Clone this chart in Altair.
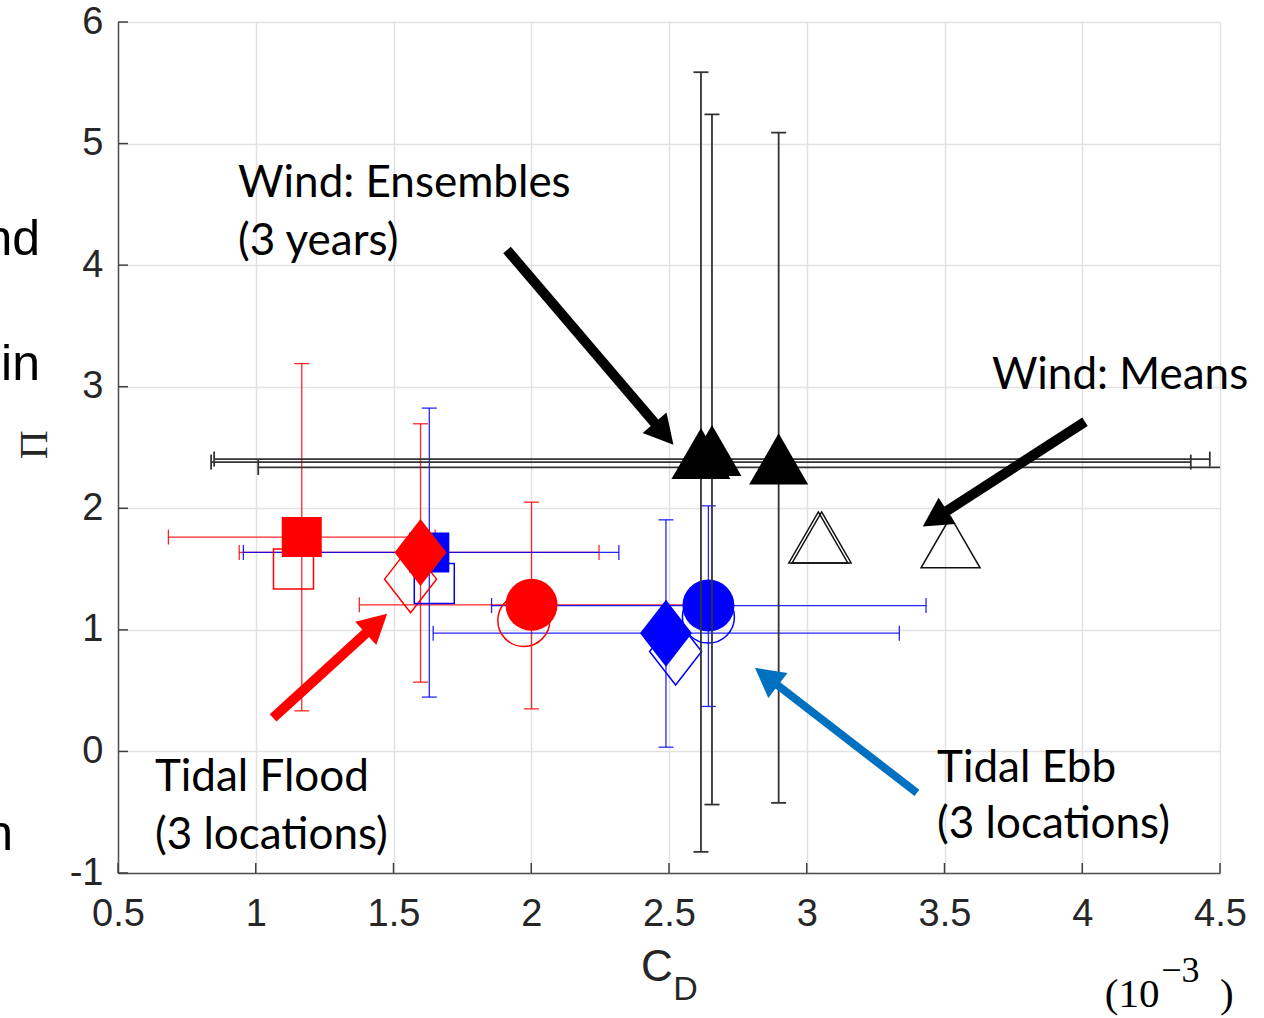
import math
import altair as alt
import pandas as pd

# ---------------- data ----------------
x_ticks = [0.5, 1, 1.5, 2, 2.5, 3, 3.5, 4, 4.5]
y_ticks = [-1, 0, 1, 2, 3, 4, 5, 6]

# Tidal Flood (red) – filled markers with error bars
red_shape = ["square", "diamond", "circle"]
red_x = [1.167, 1.598, 2.001]
red_y = [1.763, 1.637, 1.206]
red_xlo = [0.683, 0.940, 1.376]
red_xhi = [1.651, 2.246, 2.626]
red_ylo = [0.334, 0.570, 0.350]
red_yhi = [3.190, 2.695, 2.050]
# Tidal Flood (red) – open markers
red_open_x = [1.137, 1.562, 1.973]
red_open_y = [1.500, 1.417, 1.077]

# Tidal Ebb (blue) – filled markers with error bars
blue_shape = ["square", "diamond", "circle"]
blue_x = [1.630, 2.489, 2.643]
blue_y = [1.637, 0.973, 1.200]
blue_xlo = [0.955, 1.644, 1.856]
blue_xhi = [2.318, 3.336, 3.433]
blue_ylo = [0.447, 0.035, 0.370]
blue_yhi = [2.824, 1.905, 2.020]
# Tidal Ebb (blue) – open markers
blue_open_x = [1.648, 2.524, 2.643]
blue_open_y = [1.381, 0.822, 1.105]

# Wind ensembles (black filled triangles, 3 years)
wind_x = [2.616, 2.656, 2.898]
wind_y = [2.380, 2.405, 2.336]
wind_xlo = [0.838, 0.849, 1.009]
wind_xhi = [4.394, 4.463, 4.787]
wind_ylo = [-0.826, -0.437, -0.423]
wind_yhi = [5.587, 5.240, 5.090]
# Wind means (open triangles)
mean_x = [3.042, 3.054, 3.522]
mean_y = [1.690, 1.690, 1.650]

# annotation arrows (data coordinates)
arrow_tail_x = [1.912, 4.010, 1.063, 3.400]
arrow_tail_y = [4.125, 2.712, 0.276, -0.341]
arrow_tip_x = [2.516, 3.421, 1.477, 2.812]
arrow_tip_y = [2.522, 1.850, 1.132, 0.688]
arrow_color = ["#000000", "#000000", "#ff0000", "#0070c0"]
arrow_width = [10, 10, 10, 8]

# annotation texts
note_text = ["Wind: Ensembles", "(3 years)", "Wind: Means", "Tidal Ebb",
             "(3 locations)", "Tidal Flood", "(3 locations)"]
note_x = [0.936, 0.936, 3.672, 3.473, 3.473, 0.634, 0.634]
note_y = [4.564, 4.085, 2.983, -0.250, -0.715, -0.325, -0.800]

# text fragments cropped at the left edge of the picture
frag_text = ["nd", "in", "n"]
frag_x = [0.217, 0.217, 0.119]
frag_y = [4.084, 3.056, -0.809]

# ---------------- layout ----------------
W, H = 1102, 851
XD, YD = [0.5, 4.5], [-1, 6]
PX_X = W / (XD[1] - XD[0])
PX_Y = H / (YD[1] - YD[0])

RED, BLUE, BLK = "#ff0000", "#0000ff", "#000000"
DIAMOND = "M0,-1L0.776,0L0,1L-0.776,0Z"
TRIANGLE = "M0,-1.155L1,0.577L-1,0.577Z"
HEAD = "M0,0L0.54,1L-0.54,1Z"
SHAPE = {"square": "square", "circle": "circle", "diamond": DIAMOND, "triangle": TRIANGLE}
SIZE = {"square": 1600, "circle": 2704, "diamond": 4489, "triangle": 3481}

xscale = alt.Scale(domain=XD, nice=False, zero=False)
yscale = alt.Scale(domain=YD, nice=False, zero=False)

xaxis = alt.Axis(values=x_ticks, format="~g", title=None, grid=True, ticks=False,
                 tickSize=0, labelPadding=22, labelFlush=False, labelOverlap=False,
                 domain=True)
yaxis = alt.Axis(values=y_ticks, format="~g", title=None, grid=True, ticks=False,
                 tickSize=0, labelPadding=15, labelOverlap=False, domain=True,
                 labelExpr="replace(datum.label, '\u2212', '-')")


def X(f):
    return alt.X(f, type="quantitative", scale=xscale, axis=xaxis)


def Y(f):
    return alt.Y(f, type="quantitative", scale=yscale, axis=yaxis)


# ---- inward ticks ----
xt = pd.DataFrame({"x": x_ticks})
yt = pd.DataFrame({"y": y_ticks})
xtick_layer = alt.Chart(xt).mark_rule(color="#404040", strokeWidth=1.5).encode(
    x=X("x"), y=alt.value(H), y2=alt.value(H - 10))
ytick_layer = alt.Chart(yt).mark_rule(color="#404040", strokeWidth=1.5).encode(
    y=Y("y"), x=alt.value(0), x2=alt.value(10))


def errbar_layers(xs, ys, xlo, xhi, ylo, yhi, color, width, opacity):
    vb = pd.DataFrame({"x": xs, "lo": ylo, "hi": yhi})
    hb = pd.DataFrame({"y": ys, "lo": xlo, "hi": xhi})
    vc = pd.DataFrame({"x": xs + xs, "y": ylo + yhi})
    hc = pd.DataFrame({"x": xlo + xhi, "y": ys + ys})
    return [
        alt.Chart(vb).mark_rule(color=color, strokeWidth=width, opacity=opacity, clip=True)
        .encode(x=X("x"), y=Y("lo"), y2="hi"),
        alt.Chart(hb).mark_rule(color=color, strokeWidth=width, opacity=opacity, clip=True)
        .encode(y=Y("y"), x=X("lo"), x2="hi"),
        alt.Chart(vc).mark_tick(color=color, orient="horizontal", size=15, thickness=width,
                                opacity=opacity, clip=True)
        .encode(x=X("x"), y=Y("y")),
        alt.Chart(hc).mark_tick(color=color, orient="vertical", size=15, thickness=width,
                                opacity=opacity, clip=True)
        .encode(x=X("x"), y=Y("y")),
    ]


def marker_layer(xs, ys, shapes, color, filled):
    df = pd.DataFrame({"x": xs, "y": ys,
                       "shp": [SHAPE[s] for s in shapes],
                       "sz": [SIZE[s] for s in shapes]})
    if filled:
        mk = alt.Chart(df).mark_point(filled=True, color=color, opacity=1, strokeWidth=0)
    else:
        mk = alt.Chart(df).mark_point(filled=False, color=color, opacity=1, strokeWidth=1.5)
    return mk.encode(x=X("x"), y=Y("y"),
                     shape=alt.Shape("shp:N", scale=None),
                     size=alt.Size("sz:Q", scale=None))


layers = [xtick_layer, ytick_layer]
layers += errbar_layers(red_x, red_y, red_xlo, red_xhi, red_ylo, red_yhi, RED, 1.3, 0.85)
layers += errbar_layers(blue_x, blue_y, blue_xlo, blue_xhi, blue_ylo, blue_yhi, BLUE, 1.3, 0.85)
layers.append(marker_layer(red_open_x, red_open_y, red_shape, RED, False))
layers.append(marker_layer(blue_open_x, blue_open_y, blue_shape, BLUE, False))
layers.append(marker_layer(blue_x, blue_y, blue_shape, BLUE, True))
layers.append(marker_layer(red_x, red_y, red_shape, RED, True))
layers += errbar_layers(wind_x, wind_y, wind_xlo, wind_xhi, wind_ylo, wind_yhi, "#333333", 1.8, 1)
layers.append(marker_layer(wind_x, wind_y, ["triangle"] * 3, BLK, True))
layers.append(marker_layer(mean_x, mean_y, ["triangle"] * 3, "#111111", False))

# ---- arrows ----
HEAD_LEN = 29
rows = []
for tx, ty, hx, hy, c, w in zip(arrow_tail_x, arrow_tail_y, arrow_tip_x, arrow_tip_y,
                                arrow_color, arrow_width):
    dx = (hx - tx) * PX_X
    dy = -(hy - ty) * PX_Y
    L = math.hypot(dx, dy)
    ux, uy = dx / L, dy / L
    back = 0.7 * HEAD_LEN
    ex = hx - ux * back / PX_X
    ey = hy + uy * back / PX_Y
    ang = math.degrees(math.atan2(dx, -dy)) % 360
    rows.append({"tx": tx, "ty": ty, "ex": ex, "ey": ey, "hx": hx, "hy": hy,
                 "c": c, "w": w, "ang": ang})
arr = pd.DataFrame(rows)
layers.append(alt.Chart(arr).mark_rule(strokeCap="butt").encode(
    x=X("tx"), y=Y("ty"), x2="ex", y2="ey",
    color=alt.Color("c:N", scale=None), strokeWidth=alt.StrokeWidth("w:Q", scale=None)))
layers.append(alt.Chart(arr).mark_point(filled=True, shape=HEAD, opacity=1, strokeWidth=0,
                                        size=(2 * HEAD_LEN) ** 2).encode(
    x=X("hx"), y=Y("hy"), color=alt.Color("c:N", scale=None),
    angle=alt.Angle("ang:Q", scale=None)))

# ---- texts ----
notes = pd.DataFrame({"x": note_x, "y": note_y, "t": note_text})
layers.append(alt.Chart(notes).mark_text(align="left", baseline="alphabetic", font="Lato",
                                         fontSize=44, color="#000000").encode(
    x=X("x"), y=Y("y"), text="t:N"))

frags = pd.DataFrame({"x": frag_x, "y": frag_y, "t": frag_text})
layers.append(alt.Chart(frags).mark_text(align="right", baseline="alphabetic",
                                         font="Liberation Sans", fontSize=50,
                                         color="#000000").encode(
    x=X("x"), y=Y("y"), text="t:N"))

# axis titles and multiplier (positioned in data coordinates)
ttl = pd.DataFrame({"x": [2.398], "y": [-1.887], "t": ["C"]})
layers.append(alt.Chart(ttl).mark_text(align="left", baseline="alphabetic",
                                       font="Liberation Sans", fontSize=44,
                                       color="#262626").encode(x=X("x"), y=Y("y"), text="t:N"))
sub = pd.DataFrame({"x": [2.515], "y": [-2.043], "t": ["D"]})
layers.append(alt.Chart(sub).mark_text(align="left", baseline="alphabetic",
                                       font="Liberation Sans", fontSize=34,
                                       color="#262626").encode(x=X("x"), y=Y("y"), text="t:N"))
pi = pd.DataFrame({"x": [0.199], "y": [2.522], "t": ["\u03a0"]})
layers.append(alt.Chart(pi).mark_text(align="center", baseline="middle", angle=270,
                                      font="Liberation Serif", fontSize=40,
                                      color="#262626").encode(x=X("x"), y=Y("y"), text="t:N"))
mult = pd.DataFrame({"x": [4.082, 4.500], "y": [-2.100, -2.100], "t": ["(10", ")"]})
layers.append(alt.Chart(mult).mark_text(align="left", baseline="alphabetic",
                                        font="Liberation Serif", fontSize=41,
                                        color="#000000").encode(x=X("x"), y=Y("y"), text="t:N"))
sup = pd.DataFrame({"x": [4.287], "y": [-1.900], "t": ["\u22123"]})
layers.append(alt.Chart(sup).mark_text(align="left", baseline="alphabetic",
                                       font="Liberation Serif", fontSize=36,
                                       color="#000000").encode(x=X("x"), y=Y("y"), text="t:N"))

chart = alt.layer(*layers).properties(
    width=W, height=H,
    autosize=alt.AutoSizeParams(type="none"),
    padding={"left": 118, "top": 22, "right": 44, "bottom": 145},
).configure_view(stroke=None).configure_axis(
    labelFont="Liberation Sans", labelFontSize=38, labelColor="#262626",
    domainColor="#505050", domainWidth=1.5, gridColor="#e2e2e2", gridWidth=1.5,
)

chart.save("out.html", embed_options={"renderer": "svg", "actions": False})
